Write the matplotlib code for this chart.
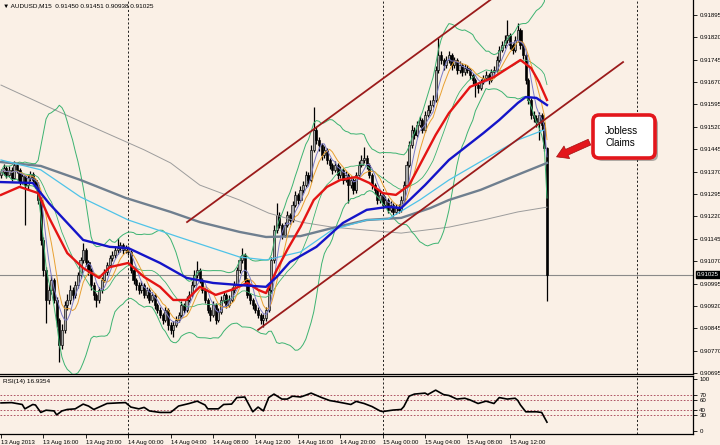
import numpy as np
import pandas as pd
import matplotlib.pyplot as plt
from matplotlib.patches import FancyBboxPatch, FancyArrowPatch
from matplotlib.transforms import IdentityTransform, blended_transform_factory

plt.rcParams['font.family'] = ['Liberation Sans', 'DejaVu Sans']

# AUDUSD M15, 13 Aug 2013 12:00 .. 15 Aug 2013 15:30 (bar index 0..206)
first_open = 0.91360
closes = [
    0.91369, 0.91382, 0.91359, 0.91376, 0.91349, 0.91392, 0.91376, 0.91335, 0.91355, 0.91325,
    0.91349, 0.91362, 0.91342, 0.91325, 0.91275, 0.91141, 0.91040, 0.90940, 0.90974, 0.91007,
    0.90940, 0.90873, 0.90789, 0.90840, 0.90923, 0.90940, 0.90974, 0.90957, 0.90990, 0.91024,
    0.91074, 0.91108, 0.91067, 0.91040, 0.90990, 0.90957, 0.90940, 0.90974, 0.91007, 0.91034,
    0.91057, 0.91081, 0.91091, 0.91108, 0.91114, 0.91124, 0.91108, 0.91114, 0.91101, 0.91040,
    0.91007, 0.90990, 0.90974, 0.90990, 0.90957, 0.90974, 0.90940, 0.90957, 0.90923, 0.90907,
    0.90890, 0.90873, 0.90907, 0.90856, 0.90840, 0.90856, 0.90873, 0.90890, 0.90923, 0.90907,
    0.90940, 0.90957, 0.90990, 0.91024, 0.91040, 0.91007, 0.90974, 0.90940, 0.90907, 0.90890,
    0.90923, 0.90873, 0.90900, 0.90940, 0.90957, 0.90923, 0.90940, 0.90974, 0.90990, 0.91040,
    0.91074, 0.91091, 0.91007, 0.90957, 0.90940, 0.90923, 0.90907, 0.90890, 0.90873, 0.90880,
    0.90907, 0.90974, 0.91074, 0.91175, 0.91225, 0.91191, 0.91158, 0.91191, 0.91225, 0.91208,
    0.91258, 0.91292, 0.91275, 0.91309, 0.91325, 0.91359, 0.91342, 0.91443, 0.91510, 0.91476,
    0.91459, 0.91426, 0.91443, 0.91409, 0.91392, 0.91376, 0.91392, 0.91359, 0.91376, 0.91342,
    0.91359, 0.91325, 0.91342, 0.91309, 0.91359, 0.91392, 0.91409, 0.91416, 0.91392, 0.91359,
    0.91325, 0.91309, 0.91275, 0.91292, 0.91258, 0.91275, 0.91242, 0.91258, 0.91235, 0.91248,
    0.91242, 0.91275, 0.91325, 0.91392, 0.91459, 0.91510, 0.91493, 0.91526, 0.91543, 0.91510,
    0.91560, 0.91577, 0.91593, 0.91610, 0.91711, 0.91761, 0.91744, 0.91727, 0.91744, 0.91761,
    0.91727, 0.91744, 0.91711, 0.91727, 0.91704, 0.91717, 0.91711, 0.91694, 0.91677, 0.91660,
    0.91650, 0.91670, 0.91684, 0.91694, 0.91677, 0.91704, 0.91711, 0.91744, 0.91778, 0.91794,
    0.91811, 0.91828, 0.91794, 0.91778, 0.91811, 0.91845, 0.91794, 0.91761, 0.91677, 0.91610,
    0.91560, 0.91550, 0.91536, 0.91560, 0.91526, 0.91450, 0.91025,
]
highs = [
    0.91380, 0.91395, 0.91390, 0.91388, 0.91385, 0.91405, 0.91400, 0.91382, 0.91365, 0.91360,
    0.91358, 0.91372, 0.91368, 0.91350, 0.91335, 0.91285, 0.91150, 0.91050, 0.90995, 0.91025,
    0.91015, 0.90950, 0.90880, 0.90860, 0.90935, 0.90960, 0.90990, 0.90985, 0.91005, 0.91035,
    0.91085, 0.91130, 0.91115, 0.91075, 0.91048, 0.91000, 0.90965, 0.90985, 0.91018, 0.91045,
    0.91068, 0.91092, 0.91105, 0.91120, 0.91148, 0.91135, 0.91130, 0.91125, 0.91120, 0.91108,
    0.91048, 0.91015, 0.91000, 0.91005, 0.90998, 0.90985, 0.90980, 0.90968, 0.90965, 0.90930,
    0.90915, 0.90898, 0.90918, 0.90912, 0.90865, 0.90868, 0.90885, 0.90900, 0.90935, 0.90930,
    0.90952, 0.90970, 0.91002, 0.91040, 0.91070, 0.91048, 0.91012, 0.90980, 0.90948, 0.90915,
    0.90935, 0.90930, 0.90912, 0.90952, 0.90968, 0.90962, 0.90955, 0.90985, 0.91002, 0.91052,
    0.91088, 0.91115, 0.91098, 0.91015, 0.90965, 0.90948, 0.90930, 0.90915, 0.90898, 0.90892,
    0.90918, 0.90985, 0.91085, 0.91190, 0.91265, 0.91235, 0.91198, 0.91202, 0.91238, 0.91232,
    0.91270, 0.91305, 0.91300, 0.91322, 0.91340, 0.91372, 0.91368, 0.91458, 0.91587, 0.91520,
    0.91485, 0.91465, 0.91455, 0.91450, 0.91415, 0.91400, 0.91405, 0.91398, 0.91388, 0.91382,
    0.91372, 0.91365, 0.91355, 0.91350, 0.91370, 0.91405, 0.91425, 0.91453, 0.91425, 0.91398,
    0.91365, 0.91332, 0.91315, 0.91305, 0.91298, 0.91288, 0.91282, 0.91270, 0.91265, 0.91260,
    0.91262, 0.91288, 0.91338, 0.91405, 0.91472, 0.91525, 0.91520, 0.91540, 0.91558, 0.91550,
    0.91572, 0.91592, 0.91610, 0.91628, 0.91725, 0.91818, 0.91775, 0.91752, 0.91758, 0.91775,
    0.91768, 0.91755, 0.91750, 0.91740, 0.91735, 0.91730, 0.91728, 0.91718, 0.91700, 0.91685,
    0.91668, 0.91682, 0.91695, 0.91708, 0.91700, 0.91715, 0.91725, 0.91758, 0.91790, 0.91808,
    0.91828, 0.91878, 0.91835, 0.91800, 0.91825, 0.91868, 0.91852, 0.91800, 0.91768, 0.91685,
    0.91618, 0.91572, 0.91560, 0.91570, 0.91568, 0.91535, 0.91451,
]
lows = [
    0.91350, 0.91360, 0.91350, 0.91352, 0.91340, 0.91345, 0.91365, 0.91325, 0.91328, 0.91192,
    0.91310, 0.91340, 0.91335, 0.91315, 0.91260, 0.91125, 0.91020, 0.90863, 0.90925, 0.90960,
    0.90930, 0.90850, 0.90732, 0.90775, 0.90830, 0.90905, 0.90925, 0.90940, 0.90945, 0.90980,
    0.91015, 0.91065, 0.91055, 0.91025, 0.90975, 0.90940, 0.90915, 0.90930, 0.90965, 0.91000,
    0.91025, 0.91050, 0.91070, 0.91080, 0.91095, 0.91100, 0.91095, 0.91098, 0.91090, 0.91030,
    0.90995, 0.90975, 0.90960, 0.90965, 0.90945, 0.90948, 0.90930, 0.90932, 0.90910, 0.90895,
    0.90878, 0.90860, 0.90865, 0.90840, 0.90825, 0.90816, 0.90848, 0.90865, 0.90882, 0.90895,
    0.90900, 0.90932, 0.90950, 0.90982, 0.91015, 0.90998, 0.90962, 0.90930, 0.90895, 0.90870,
    0.90882, 0.90860, 0.90865, 0.90892, 0.90930, 0.90912, 0.90915, 0.90932, 0.90965, 0.90982,
    0.91032, 0.91065, 0.90998, 0.90945, 0.90925, 0.90910, 0.90895, 0.90878, 0.90860, 0.90850,
    0.90870, 0.90900, 0.90965, 0.91065, 0.91165, 0.91180, 0.91145, 0.91150, 0.91185, 0.91195,
    0.91200, 0.91250, 0.91262, 0.91268, 0.91300, 0.91318, 0.91330, 0.91335, 0.91435, 0.91462,
    0.91440, 0.91410, 0.91415, 0.91395, 0.91378, 0.91362, 0.91368, 0.91345, 0.91350, 0.91330,
    0.91335, 0.91265, 0.91315, 0.91295, 0.91300, 0.91350, 0.91385, 0.91400, 0.91380, 0.91348,
    0.91312, 0.91295, 0.91262, 0.91265, 0.91245, 0.91250, 0.91230, 0.91235, 0.91222, 0.91228,
    0.91232, 0.91235, 0.91268, 0.91318, 0.91385, 0.91450, 0.91480, 0.91485, 0.91518, 0.91498,
    0.91502, 0.91552, 0.91568, 0.91585, 0.91602, 0.91700, 0.91730, 0.91712, 0.91718, 0.91735,
    0.91712, 0.91718, 0.91698, 0.91702, 0.91692, 0.91695, 0.91700, 0.91680, 0.91662, 0.91620,
    0.91635, 0.91642, 0.91662, 0.91676, 0.91665, 0.91670, 0.91695, 0.91705, 0.91738, 0.91770,
    0.91785, 0.91800, 0.91782, 0.91765, 0.91770, 0.91805, 0.91782, 0.91748, 0.91665, 0.91598,
    0.91545, 0.91535, 0.91520, 0.91476, 0.91510, 0.91440, 0.90938,
]

# slow moving averages at a few bars
gray_bar = [0, 15, 30, 47, 64, 75, 90, 100, 113, 125, 138, 151, 162, 169, 181, 192, 206]
gray_ma = [0.91402, 0.91389, 0.91342, 0.91282, 0.91235, 0.91201, 0.91168, 0.91151, 0.91154,
           0.91181, 0.91208, 0.91215, 0.91248, 0.91275, 0.91309, 0.91349, 0.91399]
cyan_bar = [0, 15, 30, 48, 67, 90, 100, 113, 125, 138, 146, 158, 169, 182, 195, 205]
cyan_ma = [0.91409, 0.91376, 0.91285, 0.91208, 0.91151, 0.91084, 0.91074, 0.91101, 0.91175,
           0.91208, 0.91211, 0.91275, 0.91342, 0.91409, 0.91476, 0.91510]
blue_bar = [0, 12, 18, 31, 41, 48, 60, 70, 80, 90, 100, 104, 109, 119, 129, 138, 146, 151,
            160, 169, 182, 188, 195, 198, 202, 206]
blue_ma = [0.91335, 0.91332, 0.91265, 0.91141, 0.91118, 0.91114, 0.91064, 0.91014, 0.90997,
           0.90990, 0.90984, 0.91017, 0.91067, 0.91118, 0.91198, 0.91242, 0.91252, 0.91248,
           0.91325, 0.91409, 0.91499, 0.91543, 0.91600, 0.91620, 0.91617, 0.91593]
red_bar = [0, 7, 14, 18, 25, 31, 37, 41, 48, 54, 60, 65, 70, 75, 81, 87, 93, 97, 100, 104,
           108, 113, 118, 123, 128, 134, 139, 144, 149, 154, 158, 164, 169, 177, 186, 196,
           200, 203, 206]
red_ma = [0.91292, 0.91319, 0.91298, 0.91218, 0.91097, 0.91047, 0.91014, 0.91050, 0.91064,
          0.91017, 0.90984, 0.90940, 0.90940, 0.90984, 0.90957, 0.90974, 0.90997, 0.90974,
          0.90963, 0.91040, 0.91108, 0.91185, 0.91275, 0.91319, 0.91342, 0.91352, 0.91332,
          0.91298, 0.91292, 0.91325, 0.91392, 0.91493, 0.91566, 0.91654, 0.91687, 0.91744,
          0.91717, 0.91670, 0.91610]
slow_bar = [0, 22, 37, 54, 64, 75, 90, 101, 113, 125, 138, 151, 169, 182, 195, 206]
slow_ma = [0.91660, 0.91570, 0.91510, 0.91443, 0.91399, 0.91325, 0.91275, 0.91231, 0.91201,
           0.91184, 0.91174, 0.91164, 0.91184, 0.91208, 0.91235, 0.91251]

# RSI(14)
rsi_bar = [0, 4, 8, 9, 12, 13, 15, 17, 20, 21, 23, 25, 28, 31, 33, 35, 37, 40, 44, 47, 49,
           52, 54, 56, 60, 64, 67, 71, 74, 77, 78, 82, 84, 87, 89, 92, 93, 95, 97, 99, 101,
           103, 106, 108, 110, 113, 115, 117, 121, 124, 126, 129, 132, 134, 137, 140, 143,
           144, 148, 151, 152, 154, 156, 160, 161, 164, 167, 169, 172, 175, 177, 180, 183,
           186, 188, 191, 194, 195, 196, 198, 202, 204, 206]
rsi_val = [54, 54.6, 51, 42.6, 51, 50, 35.7, 40, 38.6, 31, 38.6, 41.4, 42.6, 51.7, 48, 41.4,
           46, 52.9, 54, 54.6, 46, 42.6, 45.4, 38.6, 35.7, 35.7, 48, 52.9, 57.4, 50, 42.6,
           42.6, 51, 51.7, 64.3, 65.4, 55.7, 36.9, 46, 38.6, 64.3, 71, 61.4, 61.4, 67, 65.4,
           68.9, 72.9, 64.3, 58.6, 56.9, 54, 51, 56.9, 52.9, 47, 38.6, 37.4, 40.3, 41.4, 47,
           67, 71, 72.9, 70, 78.6, 70, 68.3, 61.4, 63, 59.7, 52.9, 57.4, 52.9, 64.3, 61.4,
           63, 58.6, 50, 36.9, 36.9, 35.7, 16.9354]

# channel trend lines (bar, price anchors)
chan_up_bar = [70.2, 234.7]
chan_up = [0.91201, 0.92271]
chan_lo_bar = [97.0, 234.7]
chan_lo = [0.90840, 0.91737]

day_bars = [48, 144, 240]
tick_bars = [0, 16, 32, 48, 64, 80, 96, 112, 128, 144, 160, 176, 192]
tick_labels = ['13 Aug 2013', '13 Aug 16:00', '13 Aug 20:00', '14 Aug 00:00', '14 Aug 04:00',
               '14 Aug 08:00', '14 Aug 12:00', '14 Aug 16:00', '14 Aug 20:00', '15 Aug 00:00',
               '15 Aug 04:00', '15 Aug 08:00', '15 Aug 12:00']
price_ticks = [0.91895, 0.91820, 0.91745, 0.91670, 0.91595, 0.91520, 0.91445, 0.91370,
               0.91295, 0.91220, 0.91145, 0.91070, 0.90995, 0.90920, 0.90845, 0.90770, 0.90695]

bg = '#FAF0E6'
dash = (0, (2.5, 2.5))

c = np.array(closes)
h = np.array(highs)
l = np.array(lows)
o = np.r_[first_open, c[:-1]]
x = np.arange(len(c))
s = pd.Series(c)
mid = s.rolling(20, min_periods=1).mean()
sd = s.rolling(20, min_periods=1).std(ddof=0).fillna(0)
ma_fast = s.rolling(5, min_periods=1).mean()
ma_8 = s.rolling(8, min_periods=1).mean()

fig = plt.figure(figsize=(7.2, 4.45), dpi=100)
fig.patch.set_facecolor(bg)
ax = fig.add_axes([0, 1 - 374 / 445, 693 / 720, 374 / 445])
rax = fig.add_axes([0, 1 - 434 / 445, 693 / 720, 58 / 445])
for a in (ax, rax):
    a.set_facecolor(bg)
    a.set_xlim(-0.38, 261.1)
    a.spines['left'].set_visible(False)
    for sp in ('right', 'bottom', 'top'):
        a.spines[sp].set_linewidth(0.9)
    for d in day_bars:
        a.axvline(d, color='black', lw=0.6, ls=dash, zorder=1)
ax.spines['top'].set_visible(False)

# candles
up = c >= o
ax.vlines(x, l, h, color='black', lw=0.9, zorder=3)
ax.bar(x[up], (c - o)[up], bottom=o[up], width=0.8, color='#A9A9A9',
       edgecolor='black', lw=0.45, zorder=4)
ax.bar(x[~up], (o - c)[~up], bottom=c[~up], width=0.8, color='black',
       edgecolor='black', lw=0.45, zorder=4)

# indicators
ax.plot(slow_bar, slow_ma, color='#9C9C9C', lw=0.7, zorder=5)
ax.plot(x, mid + 2 * sd, color='#3CB371', lw=0.7, zorder=5)
ax.plot(x, mid - 2 * sd, color='#3CB371', lw=0.7, zorder=5)
ax.plot(x, mid, color='#3CB371', lw=0.6, zorder=5)
ax.plot(gray_bar, gray_ma, color='#6F7F8F', lw=1.7, zorder=6)
ax.plot(cyan_bar, cyan_ma, color='#4FC3E8', lw=0.9, zorder=6)
ax.plot(x, ma_8, color='#E8A030', lw=0.7, zorder=6)
ax.plot(x, ma_fast, color='#7B7BC8', lw=0.7, zorder=6)
ax.plot(red_bar, red_ma, color='#E41414', lw=1.7, zorder=7)
ax.plot(blue_bar, blue_ma, color='#1414C8', lw=1.7, zorder=7)
ax.plot(chan_up_bar, chan_up, color='#9B1B1B', lw=1.3, zorder=8)
ax.plot(chan_lo_bar, chan_lo, color='#9B1B1B', lw=1.3, zorder=8)
ax.axhline(c[-1], color='#8A8A8A', lw=0.8, zorder=2)

ax.set_ylim(0.90692, 0.91945)
ax.set_xticks([])
ax.yaxis.tick_right()
ax.set_yticks(price_ticks)
ax.set_yticklabels([f'{p:.5f}' for p in price_ticks])
ax.tick_params(axis='y', length=3, width=0.6, pad=1.5, labelsize=4.4)
tr = blended_transform_factory(ax.transAxes, ax.transData)
ax.text(1 + 4 / 693, c[-1], f'{c[-1]:.5f}', transform=tr, va='center', ha='left',
        color='white', fontsize=4.4, zorder=10,
        bbox=dict(boxstyle='square,pad=0.2', fc='black', ec='black'))
ax.text(3 / 693, 1 - 6 / 374,
        f'\u25bc AUDUSD,M15  {o[-1]:.5f} {h[-1]:.5f} {l[-1]:.5f} {c[-1]:.5f}',
        transform=ax.transAxes, va='center', ha='left', fontsize=4.6)

# RSI panel
rax.plot(rsi_bar, rsi_val, color='black', lw=1.2, zorder=5)
for lvl in (70, 60, 40, 30):
    rax.axhline(lvl, color='#A23B50', lw=0.6, ls=(0, (2, 2)), zorder=2)
rax.set_ylim(-5.8, 105.8)
rax.yaxis.tick_right()
rax.set_yticks([0, 30, 40, 60, 70, 100])
rax.set_yticklabels(['0', '30', '40', '60', '70', '100'])
rax.tick_params(axis='y', length=3, width=0.6, pad=1.5, labelsize=4.4)
rax.set_xticks(tick_bars)
rax.set_xticklabels(tick_labels)
rax.tick_params(axis='x', length=3, width=0.6, pad=1.2, labelsize=4.3)
for lbl in rax.get_xticklabels():
    lbl.set_ha('left')
rax.text(3 / 693, 1 - 6 / 58, f'RSI(14) {rsi_val[-1]:.4f}', transform=rax.transAxes,
         va='center', ha='left', fontsize=4.6)

# callout
idt = IdentityTransform()
shadow = FancyBboxPatch((596, 284), 62, 43, boxstyle='round,pad=0,rounding_size=6',
                        transform=idt, fc='#555555', ec='none', alpha=0.45, zorder=20)
box = FancyBboxPatch((593, 287), 62, 43, boxstyle='round,pad=0,rounding_size=6',
                     transform=idt, fc='white', ec='#E3161B', lw=2.6, zorder=21)
fig.add_artist(shadow)
fig.add_artist(box)
fig.text(605, 308, 'Jobless\nClaims', transform=idt, ha='left', va='center',
         fontsize=7, linespacing=1.15, zorder=22)
fig.add_artist(FancyArrowPatch(
    (592, 304), (554, 287), transform=idt,
    arrowstyle='simple,head_width=1.1,head_length=0.9,tail_width=0.5',
    mutation_scale=9, fc='#E3161B', ec='#A01010', lw=0.5, zorder=21))

fig.savefig('out.png', dpi=100, facecolor=bg)
